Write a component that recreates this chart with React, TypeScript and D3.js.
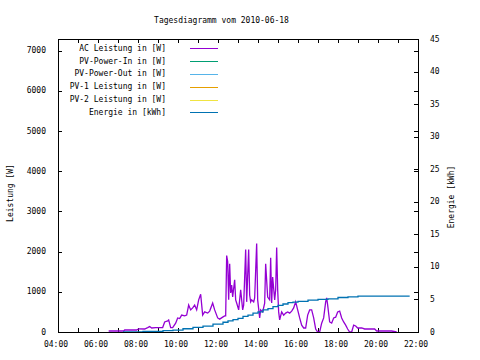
import React from "react";
import * as d3 from "d3";

const title = "Tagesdiagramm vom 2010-06-18";

const acTimes = [
  "06:32","07:17","07:20","07:56","08:02","08:20","08:29","08:35","08:41","08:53",
  "09:14","09:20","09:29","09:32","09:38","09:44","09:53","09:59","10:05","10:11",
  "10:20","10:26","10:32","10:38","10:44","10:50","10:56","11:02","11:08","11:14",
  "11:20","11:29","11:35","11:44","11:50","11:59","12:05","12:14","12:20","12:23",
  "12:26","12:29","12:32","12:35","12:38","12:41","12:44","12:50","12:53","12:56",
  "13:02","13:08","13:14","13:17","13:23","13:26","13:32","13:35","13:38","13:41",
  "13:47","13:50","13:56","13:59","14:05","14:08","14:14","14:20","14:23","14:29",
  "14:35","14:38","14:41","14:44","14:50","14:53","14:56","14:59","15:02","15:05",
  "15:11","15:17","15:23","15:29","15:35","15:41","15:47","15:53","15:59","16:05",
  "16:11","16:17","16:23","16:29","16:35","16:41","16:47","16:53","16:59","17:05",
  "17:11","17:17","17:23","17:26","17:29","17:35","17:41","17:47","17:53","17:59",
  "18:05","18:11","18:17","18:23","18:29","18:35","18:41","18:47","18:53","18:59",
  "19:11","19:20","19:50","19:56","20:41","20:56"
];
const acValues = [
  25,25,50,50,80,75,110,135,100,110,
  110,250,275,300,110,110,220,350,335,420,
  400,420,670,550,600,670,550,800,940,420,
  500,470,520,720,550,350,320,370,400,400,
  1900,1750,800,1700,970,1170,870,1300,800,720,
  550,1050,550,670,2050,750,2050,920,750,800,
  750,850,2200,800,350,550,500,720,1700,870,
  800,1850,720,1370,800,1050,2100,1050,500,300,
  500,420,470,500,470,520,600,750,550,350,
  170,100,100,420,550,550,350,75,0,0,
  220,350,750,850,670,250,220,350,370,500,
  520,350,250,170,75,0,0,170,150,100,
  100,75,75,25,25,0
];

const energyTimes = [
  "07:15","07:45","08:15","08:45","09:15","09:45","10:15","10:45","11:15","11:45",
  "12:15","12:30","12:45","13:00","13:15","13:30","13:45","14:00","14:15","14:30",
  "14:45","15:00","15:15","15:30","15:45","16:00","16:30","17:00","17:30","18:00",
  "18:30","19:00","19:30","20:00","21:35"
];
const energyValues = [
  0.0,0.0,0.1,0.1,0.2,0.3,0.5,0.7,0.9,1.2,
  1.5,1.7,1.9,2.1,2.4,2.6,2.9,3.1,3.4,3.6,
  3.9,4.1,4.3,4.5,4.6,4.7,4.9,5.0,5.1,5.3,
  5.4,5.5,5.5,5.5,5.5
];

const legendLabels = [
  "AC Leistung in [W]",
  "PV-Power-In in [W]",
  "PV-Power-Out in [W]",
  "PV-1 Leistung in [W]",
  "PV-2 Leistung in [W]",
  "Energie in [kWh]",
];
const legendColors = ["#9400d3", "#009e73", "#56b4e9", "#e69f00", "#f0e442", "#0072b2"];

const leftTicks = [0, 1000, 2000, 3000, 4000, 5000, 6000, 7000];
const rightTicks = [0, 5, 10, 15, 20, 25, 30, 35, 40, 45];
const xLabelHours = [4, 6, 8, 10, 12, 14, 16, 18, 20, 22];
const xTickHours = d3.range(4, 23);

const toH = (s: string) => {
  const [h, m] = s.split(":").map(Number);
  return h + m / 60;
};
const fmtH = (h: number) => (h < 10 ? "0" : "") + h + ":00";

const L = 58, R = 418, T = 39, B = 332;
const font = "'DejaVu Sans Mono', monospace";

export default function App() {
  const x = d3.scaleLinear().domain([4, 22]).range([L, R]);
  const yL = d3.scaleLinear().domain([0, 7290]).range([B, T]);
  const yR = d3.scaleLinear().domain([0, 45]).range([B, T]);

  const acLine = d3
    .line<number>()
    .x((_, i) => x(toH(acTimes[i])))
    .y((d) => yL(d))(acValues) as string;

  const enLine = d3
    .line<number>()
    .curve(d3.curveStepAfter)
    .x((_, i) => x(toH(energyTimes[i])))
    .y((d) => yR(d))(energyValues) as string;

  const tl = 4;
  return (
    <svg width={480} height={360} style={{ position: "absolute", left: 0, top: 0, background: "#fff" }}
      fontFamily={font} fontSize={8} >
      <rect x={0} y={0} width={480} height={360} fill="#fff" />
      <text x={221.5} y={20} textAnchor="middle" dominantBaseline="middle">{title}</text>

      <g stroke="#000" strokeWidth={1} shapeRendering="crispEdges">
        {leftTicks.map((t) => (
          <g key={"l" + t}>
            <line x1={L} x2={L + tl} y1={Math.round(yL(t)) + 0.5} y2={Math.round(yL(t)) + 0.5} />
            <line x1={R - tl} x2={R} y1={Math.round(yL(t)) + 0.5} y2={Math.round(yL(t)) + 0.5} />
          </g>
        ))}
        {rightTicks.map((t) => (
          <line key={"r" + t} x1={R - tl} x2={R} y1={Math.round(yR(t)) + 0.5} y2={Math.round(yR(t)) + 0.5} />
        ))}
        {xTickHours.map((h) => (
          <g key={"x" + h}>
            <line x1={Math.round(x(h)) + 0.5} x2={Math.round(x(h)) + 0.5} y1={B} y2={B - tl} />
            <line x1={Math.round(x(h)) + 0.5} x2={Math.round(x(h)) + 0.5} y1={T} y2={T + tl} />
          </g>
        ))}
      </g>

      {leftTicks.map((t) => (
        <text key={"lt" + t} x={46} y={yL(t)} textAnchor="end" dominantBaseline="middle">{t}</text>
      ))}
      {rightTicks.map((t) => (
        <text key={"rt" + t} x={430} y={yR(t)} textAnchor="start" dominantBaseline="middle">{t}</text>
      ))}
      {xLabelHours.map((h) => (
        <text key={"xt" + h} x={x(h) - 2} y={344} textAnchor="middle" dominantBaseline="middle">{fmtH(h)}</text>
      ))}

      <text transform="translate(10,193) rotate(-90)" textAnchor="middle" dominantBaseline="middle">Leistung [W]</text>
      <text transform="translate(451,197) rotate(-90)" textAnchor="middle" dominantBaseline="middle">Energie [kWh]</text>

      {legendLabels.map((lab, i) => {
        const yy = 48.3 + i * 12.8;
        return (
          <g key={lab}>
            <text x={166} y={yy} textAnchor="end" dominantBaseline="middle">{lab}</text>
            <line x1={190} x2={218} y1={Math.round(yy) + 0.5} y2={Math.round(yy) + 0.5}
              stroke={legendColors[i]} strokeWidth={1} shapeRendering="crispEdges" />
          </g>
        );
      })}

      <path d={acLine} fill="none" stroke={legendColors[0]} strokeWidth={1.3} strokeLinejoin="miter" />
      <path d={enLine} fill="none" stroke={legendColors[5]} strokeWidth={1.3} />

      <rect x={L + 0.5} y={T + 0.5} width={R - L} height={B - T} fill="none" stroke="#000"
        strokeWidth={1} shapeRendering="crispEdges" />
    </svg>
  );
}
